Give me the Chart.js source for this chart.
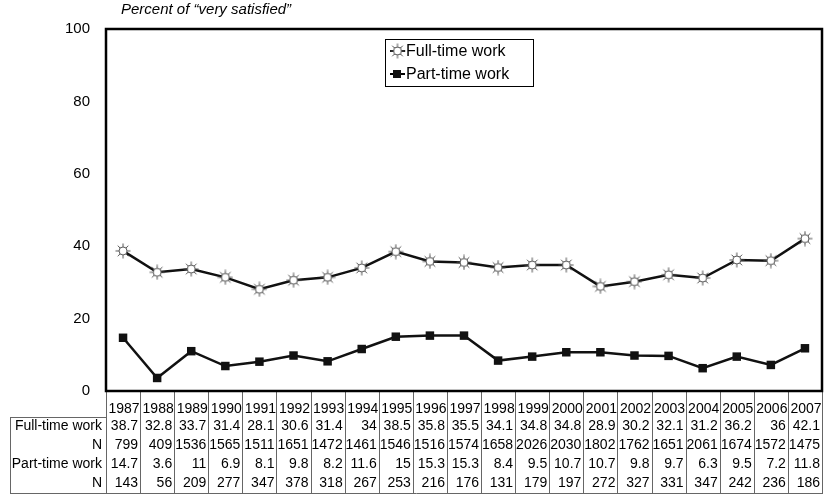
<!DOCTYPE html>
<html>
<head>
<meta charset="utf-8">
<script src="https://cdn.jsdelivr.net/npm/chart.js@4"></script>
<style>
  html, body { margin: 0; padding: 0; background: #fff; }
  #wrap { width: 825px; height: 497px; }
</style>
</head>
<body>
<div id="wrap"><canvas id="chart" width="825" height="497"></canvas></div>
<script>
// Donnees du graphique
const years = ['1987','1988','1989','1990','1991','1992','1993','1994','1995','1996','1997','1998','1999','2000','2001','2002','2003','2004','2005','2006','2007'];
const fullTime = [38.7, 32.8, 33.7, 31.4, 28.1, 30.6, 31.4, 34, 38.5, 35.8, 35.5, 34.1, 34.8, 34.8, 28.9, 30.2, 32.1, 31.2, 36.2, 36, 42.1];
const fullTimeN = [799, 409, 1536, 1565, 1511, 1651, 1472, 1461, 1546, 1516, 1574, 1658, 2026, 2030, 1802, 1762, 1651, 2061, 1674, 1572, 1475];
const partTime = [14.7, 3.6, 11, 6.9, 8.1, 9.8, 8.2, 11.6, 15, 15.3, 15.3, 8.4, 9.5, 10.7, 10.7, 9.8, 9.7, 6.3, 9.5, 7.2, 11.8];
const partTimeN = [143, 56, 209, 277, 347, 378, 318, 267, 253, 216, 176, 131, 179, 197, 272, 327, 331, 347, 242, 236, 186];
const yTicks = [0, 20, 40, 60, 80, 100];
const titleText = 'Percent of \u201cvery satisfied\u201d';

const FONT = '"Liberation Sans", Arial, sans-serif';

// Marqueur "soleil" pour la serie temps plein
function makeSunMarker() {
    const c = document.createElement('canvas');
    c.width = 16; c.height = 16;
    const g = c.getContext('2d');
    const cx = 8, cy = 8;
    g.strokeStyle = '#555';
    g.lineWidth = 1;
    for (let i = 0; i < 8; i++) {
        const a = i * Math.PI / 4;
        g.beginPath();
        g.moveTo(cx + Math.cos(a) * 4, cy + Math.sin(a) * 4);
        g.lineTo(cx + Math.cos(a) * 7.5, cy + Math.sin(a) * 7.5);
        g.stroke();
    }
    g.beginPath();
    g.arc(cx, cy, 4, 0, Math.PI * 2);
    g.fillStyle = '#fff';
    g.fill();
    g.stroke();
    return c;
}
const sunMarker = makeSunMarker();

const tableRows = [
    { label: 'Full-time work', values: fullTime },
    { label: 'N', values: fullTimeN },
    { label: 'Part-time work', values: partTime },
    { label: 'N', values: partTimeN }
];

const framePlugin = {
    id: 'frameAndTable',
    afterDraw(chart) {
        const ctx = chart.ctx;
        const area = chart.chartArea;
        const xs = chart.scales.x;
        const colW = (area.right - area.left) / years.length;
        const tableLeft = 10;
        const tableTop = 417;
        const rowH = 19;
        const tableBottom = tableTop + rowH * tableRows.length;

        ctx.save();

        // titre
        ctx.font = 'italic 15px ' + FONT;
        ctx.fillStyle = '#000';
        ctx.textAlign = 'left';
        ctx.textBaseline = 'middle';
        ctx.fillText(titleText, 121, 10);

        // tableau de donnees
        ctx.strokeStyle = '#666';
        ctx.lineWidth = 1;
        ctx.beginPath();
        for (let i = 0; i <= years.length; i++) {
            const x = Math.round(area.left + i * colW) + 0.5;
            ctx.moveTo(x, area.bottom);
            ctx.lineTo(x, tableBottom);
        }
        ctx.moveTo(tableLeft + 0.5, tableTop + 0.5);
        ctx.lineTo(area.left, tableTop + 0.5);
        ctx.moveTo(tableLeft + 0.5, tableTop);
        ctx.lineTo(tableLeft + 0.5, tableBottom);
        ctx.moveTo(tableLeft, tableBottom + 0.5);
        ctx.lineTo(area.right + 1, tableBottom + 0.5);
        ctx.stroke();

        ctx.font = '14px ' + FONT;
        ctx.fillStyle = '#000';
        ctx.textBaseline = 'middle';
        ctx.textAlign = 'center';
        years.forEach((y, i) => {
            ctx.fillText(y, xs.getPixelForValue(i) + 1, 409);
        });
        tableRows.forEach((row, r) => {
            const cy = tableTop + rowH * r + rowH / 2;
            ctx.textAlign = 'right';
            ctx.fillText(row.label, area.left - 4, cy);
            row.values.forEach((v, i) => {
                const right = area.left + (i + 1) * colW - 2;
                ctx.fillText(String(v), right, cy);
            });
        });

        // cadre de la zone de trace
        ctx.strokeStyle = '#000';
        ctx.lineWidth = 2.5;
        ctx.strokeRect(area.left, area.top, area.right - area.left, area.bottom - area.top);

        // legende
        const lx = 385, ly = 39, lw = 148, lh = 47;
        ctx.fillStyle = '#fff';
        ctx.fillRect(lx, ly, lw, lh);
        ctx.strokeStyle = '#000';
        ctx.lineWidth = 1;
        ctx.strokeRect(lx + 0.5, ly + 0.5, lw, lh);
        chart.data.datasets.forEach((ds, i) => {
            const cy = ly + 12 + i * 23;
            ctx.strokeStyle = '#000';
            ctx.lineWidth = 2;
            ctx.beginPath();
            ctx.moveTo(lx + 5, cy);
            ctx.lineTo(lx + 20, cy);
            ctx.stroke();
            if (i === 0) {
                ctx.drawImage(sunMarker, lx + 4.5, cy - 8);
            } else {
                ctx.fillStyle = '#111';
                ctx.fillRect(lx + 8, cy - 4, 8, 8);
            }
            ctx.fillStyle = '#000';
            ctx.font = '16px ' + FONT;
            ctx.textAlign = 'left';
            ctx.textBaseline = 'middle';
            ctx.fillText(ds.label, lx + 21, cy + 1);
        });

        ctx.restore();
    }
};

const ctx = document.getElementById('chart').getContext('2d');
new Chart(ctx, {
    type: 'line',
    data: {
        labels: years,
        datasets: [
            {
                label: 'Full-time work',
                data: fullTime,
                borderColor: '#111',
                borderWidth: 2.5,
                pointStyle: sunMarker,
                pointRadius: 7,
                tension: 0
            },
            {
                label: 'Part-time work',
                data: partTime,
                borderColor: '#111',
                backgroundColor: '#111',
                borderWidth: 2.5,
                pointStyle: 'rect',
                pointRadius: 6,
                pointBorderWidth: 0,
                tension: 0
            }
        ]
    },
    options: {
        responsive: false,
        animation: false,
        devicePixelRatio: 1,
        layout: {
            autoPadding: false,
            padding: { top: 29, right: 3, bottom: 106, left: 0 }
        },
        plugins: {
            legend: { display: false },
            tooltip: { enabled: false }
        },
        scales: {
            x: {
                display: false,
                offset: true
            },
            y: {
                min: 0,
                max: 100,
                afterFit: (scale) => { scale.width = 106; },
                afterBuildTicks: (scale) => {
                    scale.ticks = yTicks.map(v => ({ value: v }));
                },
                grid: { display: false, drawTicks: false },
                border: { display: false },
                ticks: {
                    color: '#000',
                    padding: 16,
                    font: { family: FONT, size: 15 }
                }
            }
        }
    },
    plugins: [framePlugin]
});
</script>
</body>
</html>
